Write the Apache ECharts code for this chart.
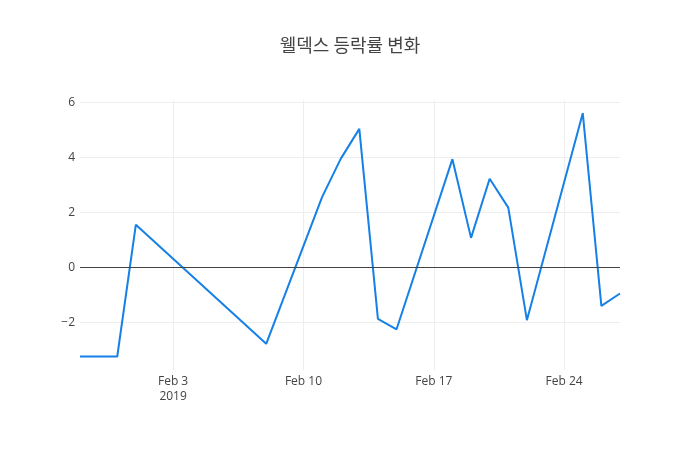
<!DOCTYPE html>
<html>
<head>
<meta charset="utf-8">
<script src="https://cdn.jsdelivr.net/npm/echarts@6/dist/echarts.min.js"></script>
<style>
  html, body { margin: 0; padding: 0; background: #fff; }
  #main { width: 700px; height: 450px; }
</style>
</head>
<body>
<div id="main"></div>
<script>
// 일자별 등락률 (%)
var dates = [
    '2019-01-29', '2019-01-30', '2019-01-31', '2019-02-01', '2019-02-08',
    '2019-02-11', '2019-02-12', '2019-02-13', '2019-02-14', '2019-02-15',
    '2019-02-18', '2019-02-19', '2019-02-20', '2019-02-21', '2019-02-22',
    '2019-02-25', '2019-02-26', '2019-02-27'
];
var rates = [
    -3.24, -3.24, -3.24, 1.55, -2.78,
    2.55, 3.94, 5.03, -1.87, -2.25,
    3.93, 1.07, 3.22, 2.17, -1.92,
    5.6, -1.40, -0.95
];
var tickDates = ['2019-02-03', '2019-02-10', '2019-02-17', '2019-02-24'];
var monthNames = ['Jan', 'Feb', 'Mar', 'Apr', 'May', 'Jun', 'Jul', 'Aug', 'Sep', 'Oct', 'Nov', 'Dec'];

function toTime(s) {
    var p = s.split('-');
    return Date.UTC(+p[0], +p[1] - 1, +p[2]);
}

var seriesData = dates.map(function (d, i) { return [toTime(d), rates[i]]; });
var tickValues = tickDates.map(toTime);

var options = {
    title: {
        text: '웰덱스 등락률 변화',
        left: 'center',
        top: 31,
        textStyle: {
            fontFamily: '"Noto Sans CJK KR", "Open Sans", sans-serif',
            fontSize: 18,
            fontWeight: 'normal',
            color: '#444'
        }
    },
    grid: {
        left: 80,
        right: 80,
        top: 100,
        bottom: 80,
        containLabel: false
    },
    xAxis: {
        type: 'value',
        min: toTime('2019-01-29'),
        max: toTime('2019-02-27'),
        axisLine: { show: false },
        axisTick: { show: false, customValues: tickValues },
        splitLine: { show: true, lineStyle: { color: '#eee', width: 1 } },
        axisLabel: {
            customValues: tickValues,
            color: '#444',
            fontSize: 12,
            fontFamily: '"Open Sans", sans-serif',
            margin: 4,
            lineHeight: 15,
            formatter: function (val) {
                var d = new Date(val);
                var s = monthNames[d.getUTCMonth()] + ' ' + d.getUTCDate();
                if (val === tickValues[0]) s += '\n' + d.getUTCFullYear();
                return s;
            }
        }
    },
    yAxis: {
        type: 'value',
        min: -3.73,
        max: 6.08,
        splitNumber: 5,
        axisLine: { show: false },
        axisTick: { show: false },
        splitLine: {
            show: true,
            showMinLine: false,
            showMaxLine: false,
            lineStyle: { color: '#eee', width: 1 }
        },
        axisLabel: {
            showMinLabel: false,
            showMaxLabel: false,
            color: '#444',
            fontSize: 12,
            fontFamily: '"Open Sans", sans-serif',
            margin: 5,
            formatter: function (v) {
                if (Math.abs(v % 2) > 1e-9) return '';
                return v < 0 ? '\u2212' + Math.abs(v) : String(v);
            }
        }
    },
    series: [{
        type: 'line',
        data: seriesData,
        showSymbol: false,
        symbol: 'none',
        lineStyle: { color: '#1580e6', width: 2 },
        itemStyle: { color: '#1580e6' },
        animation: false,
        markLine: {
            silent: true,
            symbol: 'none',
            label: { show: false },
            lineStyle: { color: '#444', width: 1, type: 'solid' },
            data: [{ yAxis: 0 }]
        },
        z: 3
    }]
};

var chart = echarts.init(document.getElementById('main'));
chart.setOption(options);
</script>
</body>
</html>
